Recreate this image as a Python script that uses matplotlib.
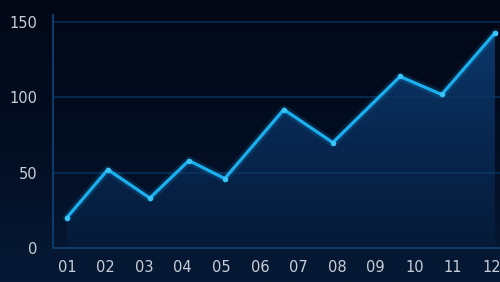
import numpy as np
import matplotlib.pyplot as plt
from matplotlib.colors import LinearSegmentedColormap

# month labels on the x axis
months = ['01', '02', '03', '04', '05', '06', '07', '08', '09', '10', '11', '12']
# where the line's points sit along the month axis, and their values
point_pos = [1.0, 2.06, 3.15, 4.16, 5.09, 6.62, 7.89, 9.63, 10.71, 12.09]
values = [20, 52, 33, 58, 46, 92, 70, 114, 102, 143]
y_ticks = [0, 50, 100, 150]


def main():
    fig = plt.figure(figsize=(5, 2.82), dpi=100)

    # background: dark navy, slightly lighter toward the bottom
    bg = fig.add_axes([0, 0, 1, 1], zorder=0)
    bg.axis('off')
    bg_cmap = LinearSegmentedColormap.from_list('bg', ['#020816', '#030d22', '#061a36'])
    grad = np.linspace(0, 1, 256).reshape(-1, 1)
    bg.imshow(grad, aspect='auto', cmap=bg_cmap, extent=[0, 1, 0, 1], origin='upper')

    ax = fig.add_axes([0.106, 0.122, 0.894, 0.825], zorder=1)
    ax.patch.set_alpha(0)
    xmin, xmax = 0.64, 12.22
    ymax = 155

    # gradient fill under the line, clipped to the area polygon
    fill_cmap = LinearSegmentedColormap.from_list(
        'fill', ['#051a38', '#082852', '#0c3a6e'])
    im = ax.imshow(np.linspace(0, 1, 256).reshape(-1, 1), aspect='auto', cmap=fill_cmap,
                   extent=[xmin, xmax, 0, ymax], origin='lower', zorder=1)
    area = ax.fill_between(point_pos, values, 0, color='none', lw=0)
    im.set_clip_path(area.get_paths()[0], transform=ax.transData)

    # glow + line + markers
    ax.plot(point_pos, values, color='#1aa8ec', lw=6, alpha=0.15, zorder=3,
            solid_joinstyle='round', solid_capstyle='round')
    ax.plot(point_pos, values, color='#1ab0f0', lw=2.3, zorder=4,
            solid_joinstyle='miter', marker='o', markersize=4,
            markerfacecolor='#3ac4f8', markeredgewidth=0)

    ax.set_xlim(xmin, xmax)
    ax.set_ylim(0, ymax)
    ax.set_xticks(range(1, len(months) + 1))
    ax.set_xticklabels(months)
    ax.set_yticks(y_ticks)
    ax.tick_params(length=0, colors='#c9ced6', labelsize=10.5)
    ax.tick_params(axis='x', pad=9)
    ax.tick_params(axis='y', pad=11)

    for v in y_ticks[1:]:
        ax.axhline(v, color='#0c3766', lw=1.1, alpha=0.85, zorder=2)
    for side in ['top', 'right']:
        ax.spines[side].set_visible(False)
    for side in ['left', 'bottom']:
        ax.spines[side].set_color('#0d3c6c')
        ax.spines[side].set_linewidth(1.4)

    plt.savefig('out.png', dpi=100, facecolor='#030a1a')


if __name__ == "__main__":
    main()
